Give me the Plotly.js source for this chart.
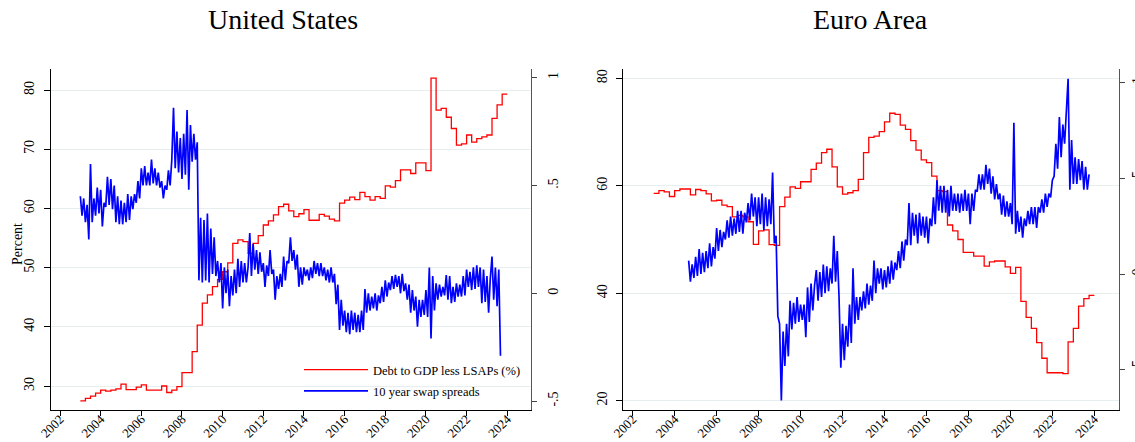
<!DOCTYPE html>
<html>
<head>
<meta charset="utf-8">
<script src="https://cdn.plot.ly/plotly-3.0.1.min.js"></script>
<style>
html, body { margin: 0; padding: 0; background: #ffffff; }
#chart { width: 1135px; height: 442px; }
</style>
</head>
<body>
<div id="chart"></div>
<script>
// ---------------- DATA ----------------
const xTickYears = [2002, 2004, 2006, 2008, 2010, 2012, 2014, 2016, 2018, 2020, 2022, 2024];
const xTickLabels = ['2002', '2004', '2006', '2008', '2010', '2012', '2014', '2016', '2018', '2020', '2022', '2024'];
const usLeftTicks = [30, 40, 50, 60, 70, 80];
const eaLeftTicks = [20, 40, 60, 80];
const spreadTicks = [-0.5, 0, 0.5, 1];
const spreadTickLabels = ['-.5', '0', '.5', '1'];

const seriesNames = ['Debt to GDP less LSAPs (%)', '10 year swap spreads'];
const panelTitles = ['United States', 'Euro Area'];
const yTitle = 'Percent';

// Quarterly debt to GDP less LSAPs (quarter start, decimal year); last entry closes the final quarter
const debtQuarters = [
  2003.00, 2003.25, 2003.50, 2003.75, 2004.00, 2004.25, 2004.50, 2004.75,
  2005.00, 2005.25, 2005.50, 2005.75, 2006.00, 2006.25, 2006.50, 2006.75,
  2007.00, 2007.25, 2007.50, 2007.75, 2008.00, 2008.25, 2008.50, 2008.75,
  2009.00, 2009.25, 2009.50, 2009.75, 2010.00, 2010.25, 2010.50, 2010.75,
  2011.00, 2011.25, 2011.50, 2011.75, 2012.00, 2012.25, 2012.50, 2012.75,
  2013.00, 2013.25, 2013.50, 2013.75, 2014.00, 2014.25, 2014.50, 2014.75,
  2015.00, 2015.25, 2015.50, 2015.75, 2016.00, 2016.25, 2016.50, 2016.75,
  2017.00, 2017.25, 2017.50, 2017.75, 2018.00, 2018.25, 2018.50, 2018.75,
  2019.00, 2019.25, 2019.50, 2019.75, 2020.00, 2020.25, 2020.50, 2020.75,
  2021.00, 2021.25, 2021.50, 2021.75, 2022.00, 2022.25, 2022.50, 2022.75,
  2023.00, 2023.25, 2023.50, 2023.75, 2024.00
];

const usDebt = [
  27.5, 27.9, 28.3, 28.8, 29.3, 29.15, 29.3, 29.5,
  30.3, 29.4, 29.4, 29.8, 30.2, 29.3, 29.3, 29.3,
  30.0, 28.9, 29.3, 29.9, 32.25, 32.25, 35.8, 40.3,
  44.0, 45.4, 46.8, 48.0, 49.3, 50.8, 54.1, 54.7,
  54.4, 52.4, 54.1, 55.4, 57.2, 57.9, 58.9, 60.3,
  60.7, 59.6, 58.6, 59.1, 59.8, 58.0, 58.0, 59.0,
  58.7, 58.2, 57.9, 60.9, 61.4, 61.9, 61.5, 62.7,
  62.0, 61.4, 62.0, 61.7, 63.8, 63.6, 64.7, 66.5,
  66.5, 65.9, 67.7, 67.7, 66.4, 82.0, 76.6, 76.9,
  75.4, 73.5, 70.7, 70.9, 72.4, 71.2, 71.8, 72.1,
  72.4, 75.2, 77.5, 79.3, 79.3
];

const eaDebt = [
  58.6, 59.1, 58.85, 58.0, 59.1, 59.4, 59.4, 58.3,
  59.3, 59.1, 58.5, 57.2, 57.3, 56.4, 56.1, 54.2,
  54.5, 54.2, 53.3, 49.1, 51.6, 51.8, 49.05, 48.9,
  56.1, 57.9, 59.8, 59.5, 60.75, 60.75, 63.05, 64.2,
  66.15, 66.8, 63.5, 59.8, 58.45, 58.7, 59.1, 61.2,
  66.15, 69.0, 69.25, 70.06, 71.9, 73.5, 73.3, 71.3,
  70.5, 68.4, 66.65, 64.8, 64.3, 61.8, 59.1, 58.9,
  52.7, 51.6, 50.0, 47.6, 47.6, 46.9, 46.9, 45.05,
  45.85, 46.0, 46.0, 44.9, 43.7, 44.8, 38.5, 35.5,
  33.45, 30.8, 27.9, 25.2, 25.2, 25.2, 25.05, 30.95,
  33.45, 37.6, 39.0, 39.6, 39.6
];

// Monthly 10 year swap spreads (percentage points)
const usSwapStart = 2003.0;        // January 2003
const usSwap = [
  0.45, 0.36, 0.44, 0.33, 0.41, 0.25, 0.60, 0.33, 0.44, 0.36, 0.49, 0.37,
  0.48, 0.31, 0.42, 0.40, 0.54, 0.41, 0.53, 0.39, 0.50, 0.33, 0.45, 0.32,
  0.43, 0.32, 0.42, 0.33, 0.46, 0.34, 0.45, 0.39, 0.46, 0.42, 0.52, 0.44,
  0.58, 0.50, 0.59, 0.50, 0.56, 0.50, 0.62, 0.51, 0.58, 0.50, 0.56, 0.49,
  0.52, 0.44, 0.50, 0.48, 0.57, 0.50, 0.62, 0.86, 0.58, 0.75, 0.56, 0.72,
  0.53, 0.74, 0.55, 0.85, 0.48, 0.78, 0.61, 0.74, 0.62, 0.70, 0.06, 0.35,
  0.05, 0.34, 0.06, 0.37, 0.05, 0.30, 0.09, 0.26, 0.08, 0.15, 0.05, 0.14,
  -0.07, 0.12, 0.00, 0.11, -0.06, 0.08, -0.01, 0.11, 0.00, 0.16, 0.03, 0.15,
  0.05, 0.14, 0.05, 0.12, 0.28, 0.08, 0.23, 0.11, 0.20, 0.09, 0.19, 0.10,
  0.14, 0.03, 0.13, 0.08, 0.20, 0.09, 0.11, -0.03, 0.08, 0.02, 0.09, 0.03,
  0.17, 0.06, 0.15, 0.14, 0.26, 0.15, 0.20, 0.11, 0.18, 0.03, 0.12, 0.04,
  0.12, 0.08, 0.11, 0.06, 0.12, 0.07, 0.15, 0.09, 0.14, 0.08, 0.14, 0.08,
  0.12, 0.06, 0.11, 0.05, 0.12, 0.05, 0.09, -0.05, 0.04, -0.17, -0.03, -0.15,
  -0.08, -0.18, -0.09, -0.19, -0.08, -0.17, -0.09, -0.18, -0.10, -0.18, -0.08, -0.17,
  0.02, -0.09, 0.00, -0.08, -0.015, -0.07, 0.00, -0.08, -0.01, -0.046, 0.03, -0.04,
  0.06, -0.015, 0.05, 0.015, 0.08, 0.02, 0.085, 0.03, 0.08, 0.00, 0.09, 0.01,
  0.046, -0.03, 0.04, -0.09, 0.015, -0.08, -0.015, -0.155, -0.03, -0.11, -0.03, -0.10,
  0.015, -0.11, 0.12, -0.21, 0.08, -0.08, 0.046, -0.03, 0.04, -0.015, 0.03, -0.01,
  0.085, -0.03, 0.08, -0.046, 0.03, -0.04, 0.046, -0.015, 0.04, -0.015, 0.08, -0.01,
  0.11, 0.03, 0.10, 0.015, 0.12, 0.02, 0.13, 0.03, 0.12, -0.046, 0.11, -0.04,
  0.08, -0.09, 0.07, 0.17, -0.03, 0.12, -0.06, 0.11, -0.29
];

const eaSwapStart = 2004 + 8 / 12; // September 2004
const eaSwap = [
  0.07, -0.04, 0.05, -0.02,
  0.09, -0.01, 0.13, 0.00, 0.11, 0.01, 0.12, 0.03, 0.16, 0.04, 0.14, 0.08,
  0.24, 0.12, 0.23, 0.14, 0.22, 0.18, 0.28, 0.19, 0.30, 0.20, 0.29, 0.21,
  0.33, 0.22, 0.33, 0.21, 0.32, 0.27, 0.37, 0.28, 0.42, 0.30, 0.40, 0.25,
  0.40, 0.26, 0.42, 0.23, 0.40, 0.25, 0.39, 0.26, 0.53, 0.16, 0.20, -0.22,
  -0.26, -0.66, -0.30, -0.48, -0.26, -0.43, -0.14, -0.29, -0.15, -0.26, -0.12, -0.25,
  -0.16, -0.24, -0.16, -0.33, -0.07, -0.25, -0.05, -0.19, -0.06, 0.02, -0.14, 0.01,
  -0.12, 0.05, -0.10, 0.04, -0.09, 0.03, -0.05, 0.20, -0.04, 0.12, -0.12, -0.49,
  -0.26, -0.45, -0.27, -0.38, -0.16, -0.36, 0.03, -0.26, -0.12, -0.24, -0.12, -0.19,
  -0.09, -0.18, -0.05, -0.16, -0.06, -0.14, 0.07, -0.10, 0.03, -0.05, 0.03, -0.08,
  0.02, -0.07, 0.04, -0.05, 0.07, -0.03, 0.06, 0.02, 0.12, 0.03, 0.17, 0.07,
  0.18, 0.15, 0.37, 0.15, 0.32, 0.20, 0.31, 0.16, 0.32, 0.20, 0.30, 0.19,
  0.30, 0.16, 0.29, 0.25, 0.40, 0.26, 0.49, 0.33, 0.46, 0.32, 0.46, 0.32,
  0.44, 0.30, 0.46, 0.33, 0.42, 0.33, 0.42, 0.32, 0.42, 0.33, 0.44, 0.33,
  0.42, 0.26, 0.42, 0.33, 0.44, 0.43, 0.52, 0.44, 0.52, 0.44, 0.57, 0.47,
  0.55, 0.42, 0.51, 0.39, 0.47, 0.39, 0.42, 0.31, 0.41, 0.30, 0.38, 0.30,
  0.37, 0.26, 0.79, 0.21, 0.33, 0.22, 0.30, 0.19, 0.29, 0.25, 0.33, 0.26,
  0.35, 0.26, 0.35, 0.24, 0.35, 0.32, 0.39, 0.32, 0.42, 0.35, 0.42, 0.40,
  0.49, 0.51, 0.68, 0.55, 0.82, 0.61, 0.78, 0.68, 0.85, 1.02, 0.44, 0.70,
  0.47, 0.61, 0.47, 0.60, 0.49, 0.59, 0.44, 0.56, 0.44, 0.52
];

// ---------------- BUILD ----------------
const W = 1135, H = 442;
const FONT = '"Liberation Serif", "Times New Roman", serif';
const monthly = (start, n) => Array.from({length: n}, (_, i) => start + i / 12);

const RED = '#ff0000', BLUE = '#0000ff', GRID = '#e7eef0';

const traces = [
  { x: debtQuarters, y: usDebt, xaxis: 'x', yaxis: 'y', type: 'scatter', mode: 'lines',
    line: { color: RED, width: 1.3, shape: 'hv' }, name: seriesNames[0], legendgroup: 'a' },
  { x: monthly(usSwapStart, usSwap.length), y: usSwap, xaxis: 'x', yaxis: 'y2', type: 'scatter', mode: 'lines',
    line: { color: BLUE, width: 1.7 }, name: seriesNames[1], legendgroup: 'b' },
  { x: debtQuarters, y: eaDebt, xaxis: 'x2', yaxis: 'y3', type: 'scatter', mode: 'lines',
    line: { color: RED, width: 1.3, shape: 'hv' }, name: seriesNames[0], showlegend: false },
  { x: monthly(eaSwapStart, eaSwap.length), y: eaSwap, xaxis: 'x2', yaxis: 'y4', type: 'scatter', mode: 'lines',
    line: { color: BLUE, width: 1.7 }, name: seriesNames[1], showlegend: false }
];

const yDom = [1 - 409.5 / H, 1 - 69.3 / H];

function xAxis(domain, range, anchor) {
  return {
    domain: domain, range: range, anchor: anchor,
    tickmode: 'array', tickvals: xTickYears, ticktext: xTickLabels, tickangle: -45,
    ticks: 'outside', ticklen: 5, tickwidth: 1, tickcolor: '#000', ticklabelstandoff: -9,
    showline: true, linecolor: '#000', linewidth: 1,
    showgrid: false, zeroline: false,
    tickfont: { family: FONT, size: 13, color: '#000' }
  };
}
function leftAxis(range, ticks, anchor) {
  return {
    domain: yDom, range: range, anchor: anchor,
    tickmode: 'array', tickvals: ticks, ticktext: ticks.map(String), tickangle: -90,
    ticks: 'outside', ticklen: 6, tickwidth: 1, tickcolor: '#000', ticklabelstandoff: 4,
    showline: true, linecolor: '#000', linewidth: 1,
    showgrid: true, gridcolor: GRID, gridwidth: 1, zeroline: false,
    tickfont: { family: FONT, size: 14, color: '#000' }
  };
}
function rightAxis(range, overlay, anchor, standoff) {
  return {
    overlaying: overlay, side: 'right', anchor: anchor, range: range,
    tickmode: 'array', tickvals: spreadTicks, ticktext: spreadTickLabels, tickangle: -90,
    ticks: 'outside', ticklen: 5, tickwidth: 1, tickcolor: '#444', ticklabelstandoff: standoff,
    showline: true, linecolor: '#555', linewidth: 1,
    showgrid: false, zeroline: false,
    tickfont: { family: FONT, size: 14, color: '#000' }
  };
}

const layout = {
  width: W, height: H,
  margin: { l: 0, r: 0, t: 0, b: 0 },
  paper_bgcolor: '#ffffff', plot_bgcolor: '#ffffff',
  font: { family: FONT, color: '#000' },
  xaxis: xAxis([51 / W, 531 / W], [2001.557, 2025.168], 'y'),
  yaxis: leftAxis([26.03, 83.5], usLeftTicks, 'x'),
  yaxis2: rightAxis([-0.539, 1.039], 'y', 'x', 4),
  xaxis2: xAxis([623.3 / W, 1119.3 / W], [2001.552, 2025.19], 'y3'),
  yaxis3: leftAxis([18.36, 81.675], eaLeftTicks, 'x2'),
  yaxis4: rightAxis([-0.7076, 1.069], 'y3', 'x2', 0),
  showlegend: true,
  legend: {
    x: 299 / W, y: 1 - 355 / H, xanchor: 'left', yanchor: 'top',
    bgcolor: 'rgba(0,0,0,0)', borderwidth: 0,
    font: { family: FONT, size: 12.5, color: '#000' },
    itemwidth: 64, traceorder: 'grouped', tracegroupgap: 2
  },
  annotations: [
    { text: panelTitles[0], xref: 'paper', yref: 'paper', x: 283 / W, y: 1 - 20 / H,
      xanchor: 'center', yanchor: 'middle', showarrow: false, font: { family: FONT, size: 28, color: '#000' } },
    { text: panelTitles[1], xref: 'paper', yref: 'paper', x: 871 / W, y: 1 - 20 / H,
      xanchor: 'center', yanchor: 'middle', showarrow: false, font: { family: FONT, size: 28, color: '#000' } },
    { text: yTitle, xref: 'paper', yref: 'paper', x: 17 / W, y: 1 - 244 / H, textangle: -90,
      xanchor: 'center', yanchor: 'middle', showarrow: false, font: { family: FONT, size: 14, color: '#000' } }
  ]
};

Plotly.newPlot('chart', traces, layout, { staticPlot: true, displayModeBar: false });
</script>
</body>
</html>
